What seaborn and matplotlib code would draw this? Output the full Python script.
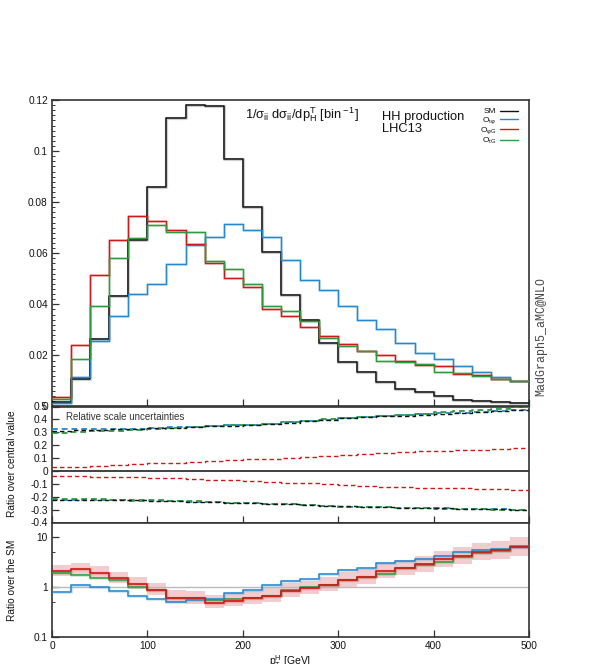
import matplotlib
matplotlib.use("Agg")
import matplotlib.pyplot as plt
from matplotlib.lines import Line2D
import numpy as np
import pandas as pd
import seaborn as sns

# ---------------- data ----------------
bin_edges = [0, 20, 40, 60, 80, 100, 120, 140, 160, 180, 200, 220, 240,
             260, 280, 300, 320, 340, 360, 380, 400, 420, 440, 460, 480, 500]

# normalised distributions 1/sigma dsigma/dpT (per bin)
dist_sm = [0.0017, 0.0108, 0.0263, 0.0433, 0.0653, 0.0858, 0.1128, 0.1180, 0.1178,
           0.0969, 0.0783, 0.0605, 0.0438, 0.0340, 0.0250, 0.0176, 0.0135, 0.0095,
           0.0069, 0.0056, 0.0043, 0.0027, 0.0021, 0.0017, 0.0013]
dist_tphi = [0.0013, 0.0117, 0.0258, 0.0355, 0.0440, 0.0479, 0.0557, 0.0633, 0.0665,
             0.0713, 0.0691, 0.0664, 0.0573, 0.0497, 0.0458, 0.0392, 0.0337, 0.0302,
             0.0248, 0.0210, 0.0186, 0.0159, 0.0135, 0.0114, 0.0099]
dist_phiG = [0.0037, 0.0241, 0.0514, 0.0650, 0.0746, 0.0725, 0.0691, 0.0635, 0.0563,
             0.0502, 0.0467, 0.0383, 0.0354, 0.0311, 0.0275, 0.0246, 0.0217, 0.0200,
             0.0180, 0.0161, 0.0157, 0.0128, 0.0122, 0.0109, 0.0099]
dist_tG = [0.0030, 0.0185, 0.0393, 0.0582, 0.0660, 0.0711, 0.0682, 0.0682, 0.0571,
           0.0537, 0.0480, 0.0392, 0.0373, 0.0335, 0.0269, 0.0237, 0.0217, 0.0180,
           0.0174, 0.0167, 0.0137, 0.0131, 0.0119, 0.0106, 0.0099]

# relative scale uncertainties (upper / lower)
unc_up_sm = [0.312, 0.315, 0.319, 0.322, 0.326, 0.330, 0.335, 0.340, 0.346, 0.352, 0.357,
             0.364, 0.374, 0.386, 0.399, 0.410, 0.416, 0.423, 0.430, 0.437, 0.444, 0.451,
             0.458, 0.465, 0.472]
unc_up_tphi = [0.324, 0.322, 0.322, 0.325, 0.329, 0.333, 0.338, 0.343, 0.349, 0.354, 0.359,
               0.366, 0.376, 0.387, 0.399, 0.409, 0.416, 0.424, 0.431, 0.438, 0.446, 0.453,
               0.460, 0.467, 0.475]
unc_up_phiG = [0.028, 0.033, 0.039, 0.046, 0.052, 0.058, 0.064, 0.071, 0.078, 0.085, 0.090,
               0.096, 0.102, 0.107, 0.116, 0.125, 0.133, 0.140, 0.146, 0.153, 0.158, 0.162,
               0.166, 0.170, 0.175]
unc_up_tG = [0.293, 0.300, 0.307, 0.313, 0.319, 0.326, 0.333, 0.340, 0.347, 0.353, 0.359,
             0.366, 0.377, 0.389, 0.401, 0.412, 0.420, 0.428, 0.436, 0.445, 0.454, 0.463,
             0.472, 0.483, 0.494]
unc_dn_sm = [-0.225, -0.226, -0.227, -0.228, -0.229, -0.231, -0.234, -0.238, -0.243, -0.247,
             -0.251, -0.254, -0.258, -0.264, -0.270, -0.275, -0.278, -0.281, -0.284, -0.286,
             -0.289, -0.292, -0.295, -0.298, -0.301]
unc_dn_tphi = [-0.228, -0.227, -0.228, -0.229, -0.230, -0.232, -0.235, -0.239, -0.244, -0.248,
               -0.252, -0.256, -0.260, -0.265, -0.271, -0.276, -0.279, -0.282, -0.285, -0.288,
               -0.291, -0.293, -0.296, -0.299, -0.302]
unc_dn_phiG = [-0.040, -0.043, -0.045, -0.047, -0.050, -0.054, -0.058, -0.062, -0.068, -0.074,
               -0.080, -0.085, -0.090, -0.097, -0.104, -0.111, -0.116, -0.121, -0.126, -0.130,
               -0.133, -0.136, -0.139, -0.142, -0.145]
unc_dn_tG = [-0.217, -0.219, -0.221, -0.223, -0.226, -0.229, -0.233, -0.237, -0.242, -0.247,
             -0.251, -0.255, -0.259, -0.265, -0.271, -0.276, -0.280, -0.283, -0.286, -0.289,
             -0.292, -0.295, -0.298, -0.302, -0.306]

# ratio over the SM
ratio_tphi = [0.82, 1.10, 1.02, 0.85, 0.67, 0.58, 0.50, 0.55, 0.58, 0.75, 0.90, 1.11, 1.34,
              1.47, 1.82, 2.22, 2.47, 3.10, 3.35, 3.61, 4.20, 5.07, 5.60, 5.75, 6.46]
ratio_phiG = [2.12, 2.28, 1.96, 1.51, 1.15, 0.87, 0.62, 0.60, 0.49, 0.54, 0.60, 0.67, 0.85,
              0.955, 1.11, 1.38, 1.61, 2.12, 2.47, 2.87, 3.61, 4.22, 5.07, 5.56, 6.46]
ratio_tG = [1.90, 1.77, 1.51, 1.38, 1.03, 0.87, 0.62, 0.60, 0.56, 0.58, 0.62, 0.67, 0.90,
            0.99, 1.11, 1.38, 1.61, 1.82, 2.39, 2.79, 3.20, 4.03, 4.91, 5.31, 6.68]
band_phiG_hi = [2.85, 3.05, 2.65, 2.05, 1.58, 1.20, 0.86, 0.83, 0.70, 0.76, 0.85, 0.95, 1.20,
                1.36, 1.58, 1.98, 2.30, 3.05, 3.60, 4.20, 5.40, 6.30, 7.60, 8.40, 10.0]
band_phiG_lo = [1.72, 1.85, 1.58, 1.22, 0.92, 0.70, 0.49, 0.47, 0.38, 0.42, 0.46, 0.51, 0.65,
                0.72, 0.83, 1.02, 1.18, 1.55, 1.78, 2.05, 2.50, 2.90, 3.45, 3.75, 4.20]

labels = ["SM", "O$_{\\rm t\u03c6}$", "O$_{\\rm \u03c6G}$", "O$_{\\rm tG}$"]
x_ticks = [0, 100, 200, 300, 400, 500]

# ---------------- style ----------------
sns.set_style("ticks")
plt.rcParams["font.family"] = ["Liberation Sans", "DejaVu Sans"]
plt.rcParams["mathtext.fontset"] = "custom"
plt.rcParams["mathtext.rm"] = "Liberation Sans"
plt.rcParams["mathtext.it"] = "Liberation Sans:italic"
plt.rcParams["mathtext.bf"] = "Liberation Sans:bold"
plt.rcParams["axes.unicode_minus"] = False

C_SM = "#111111"
C_B = "#2388cc"
C_R = "#d01818"
C_G = "#2e9a40"
SPINE = "#333333"

W, H = 592, 664
fig = plt.figure(figsize=(W / 100, H / 100), dpi=100)


def fx(px):
    return px / W


def fy(py):
    return 1 - py / H


L, R = 52, 529
ax1 = fig.add_axes([fx(L), fy(406.5), fx(R - L), (406.5 - 100) / H])
ax2 = fig.add_axes([fx(L), fy(522.5), fx(R - L), (522.5 - 406.5) / H])
ax3 = fig.add_axes([fx(L), fy(637), fx(R - L), (637 - 522.5) / H])


def step_line(ax, values, color, lw=1.0, ls="-", halo=True, z=3):
    df = pd.DataFrame({"x": bin_edges, "y": list(values) + [values[-1]]})
    if halo:
        sns.lineplot(data=df, x="x", y="y", ax=ax, color=color, lw=lw + 1.2, alpha=0.2,
                     drawstyle="steps-post", estimator=None, sort=False, legend=False, zorder=z)
    sns.lineplot(data=df, x="x", y="y", ax=ax, color=color, lw=lw, linestyle=ls,
                 drawstyle="steps-post", estimator=None, sort=False, legend=False, zorder=z + 0.1)


# ---- top panel ----
step_line(ax1, dist_sm, C_SM, lw=1.1)
step_line(ax1, dist_tphi, C_B)
step_line(ax1, dist_phiG, C_R)
step_line(ax1, dist_tG, C_G)
ax1.set_xlim(0, 500)
ax1.set_ylim(0, 0.12)
ax1.set_yticks([0, 0.02, 0.04, 0.06, 0.08, 0.1, 0.12])
ax1.set_yticklabels(["0", "0.02", "0.04", "0.06", "0.08", "0.1", "0.12"])
ax1.set_yticks(np.arange(0, 0.1201, 0.002), minor=True)

# ---- middle panel ----
dash = (0, (3.2, 2.2))
step_line(ax2, unc_up_phiG, C_R, lw=1.0, ls=dash, halo=False)
step_line(ax2, unc_dn_phiG, C_R, lw=1.0, ls=dash, halo=False)
step_line(ax2, unc_up_tphi, C_B, lw=1.3, ls=dash, halo=False)
step_line(ax2, unc_dn_tphi, C_B, lw=1.3, ls=dash, halo=False)
step_line(ax2, unc_up_tG, C_G, lw=1.3, ls=dash, halo=False)
step_line(ax2, unc_dn_tG, C_G, lw=1.3, ls=dash, halo=False)
step_line(ax2, unc_up_sm, C_SM, lw=1.0, ls=dash, halo=False)
step_line(ax2, unc_dn_sm, C_SM, lw=1.0, ls=dash, halo=False)
ax2.axhline(0, color=SPINE, lw=1.3, zorder=5)
ax2.set_xlim(0, 500)
ax2.set_ylim(-0.4, 0.5)
yt2 = [-0.4, -0.3, -0.2, -0.1, 0, 0.1, 0.2, 0.3, 0.4, 0.5]
ax2.set_yticks(yt2)
ax2.set_yticklabels(["-0.4", "-0.3", "-0.2", "-0.1", "0", "0.1", "0.2", "0.3", "0.4", "0.5"])
ax2.text(fx(66 - L) / fx(R - L), 0.95, "Relative scale uncertainties", transform=ax2.transAxes,
         ha="left", va="top", fontsize=7, color="#333333")

# ---- bottom panel ----
ax3.set_yscale("log")
band_df = pd.DataFrame({"x": bin_edges,
                        "lo": band_phiG_lo + [band_phiG_lo[-1]],
                        "hi": band_phiG_hi + [band_phiG_hi[-1]]})
ax3.fill_between(band_df["x"], band_df["lo"], band_df["hi"], step="post",
                 color="#f0bcc0", alpha=0.75, lw=0, zorder=1)
ax3.axhline(1, color="#bbbbbb", lw=1.0, zorder=2)
step_line(ax3, ratio_tG, C_G, lw=1.1, halo=True)
step_line(ax3, ratio_tphi, C_B, lw=1.1, halo=True)
step_line(ax3, ratio_phiG, C_R, lw=1.2, halo=True)
ax3.set_xlim(0, 500)
ax3.set_ylim(0.1, 20)
ax3.set_yticks([0.1, 1, 10])
ax3.set_yticklabels(["0.1", "1", "10"])
ax3.set_yticks([0.5, 5], minor=True)
ax3.yaxis.set_minor_formatter(matplotlib.ticker.NullFormatter())

for ax in (ax1, ax2, ax3):
    ax.set_xlabel("")
    ax.set_ylabel("")
    ax.set_xticks(x_ticks)
    ax.tick_params(axis="both", which="major", direction="in", length=5, width=0.9,
                   color=SPINE, labelsize=7.3, pad=3, labelcolor="#111111",
                   top=False, right=False)
    ax.tick_params(axis="both", which="minor", direction="in", length=2.5, width=0.7,
                   color=SPINE, top=False, right=False)
    for s in ax.spines.values():
        s.set_color(SPINE)
        s.set_linewidth(1.2)
        s.set_visible(True)
ax1.tick_params(axis="x", labelbottom=False)
ax2.tick_params(axis="x", labelbottom=False)
ax3.set_xticklabels([str(v) for v in x_ticks])

# ---- texts ----
fig.text(fx(245), fy(119), "1/\u03c3$_{\\rm ii}$ d\u03c3$_{\\rm ii}$/dp$^{\\rm T}_{\\rm H}$ [bin$^{\\rm -1}$]",
         fontsize=9.3, ha="left", va="baseline", color="#111111")
fig.text(fx(382), fy(120), "HH production", fontsize=9.3, ha="left", va="baseline", color="#111111")
fig.text(fx(382), fy(131.5), "LHC13", fontsize=9.3, ha="left", va="baseline", color="#111111")

leg_y = [110.5, 119, 129.3, 140]
leg_c = [C_SM, C_B, C_R, C_G]
for lab, yy, cc in zip(labels, leg_y, leg_c):
    fig.text(fx(496), fy(yy + 2.4), lab, fontsize=6.0, ha="right", va="baseline", color="#111111")
    fig.add_artist(Line2D([fx(500), fx(518)], [fy(yy), fy(yy)], color=cc, lw=1.0,
                          transform=fig.transFigure))

fig.text(fx(541), fy(337), "MadGraph5_aMC@NLO", rotation=90, ha="center", va="center",
         fontsize=8.4, family=["Liberation Mono", "DejaVu Sans Mono"], color="#444444")
fig.text(fx(12), fy(464), "Ratio over central value", rotation=90, ha="center", va="center",
         fontsize=7.3, color="#111111")
fig.text(fx(12), fy(580), "Ratio over the SM", rotation=90, ha="center", va="center",
         fontsize=7.3, color="#111111")
fig.text(fx(290), fy(665), "p$^{\\rm H}_{\\rm T}$ [GeV]", ha="center", va="baseline",
         fontsize=7.5, color="#111111")

fig.savefig("out.png", dpi=100)
